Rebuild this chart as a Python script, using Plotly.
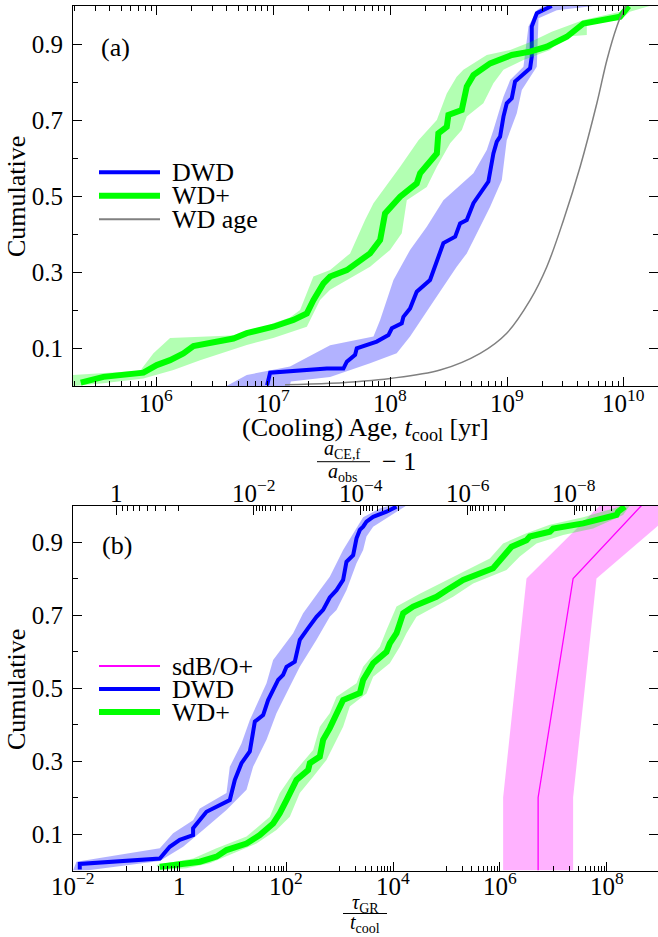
import numpy as np
import plotly.graph_objects as go

# ---------------- panel (a): cumulative (cooling) ages ----------------
# log10(t_cool / yr) and cumulative fraction
dwd_a_logt = [6.947, 6.973, 7.458, 7.600, 7.629, 7.700, 7.714, 7.885, 7.985, 8.014, 8.099,
              8.113, 8.170, 8.227, 8.341, 8.455, 8.556, 8.598, 8.655, 8.712, 8.840, 8.883,
              8.912, 8.940, 8.969, 8.997, 9.040, 9.068, 9.197, 9.211, 9.211, 9.254, 9.382]
dwd_a_cum = [0.002, 0.035, 0.046, 0.046, 0.064, 0.082, 0.099, 0.117, 0.134, 0.152, 0.165,
             0.182, 0.204, 0.248, 0.279, 0.376, 0.393, 0.428, 0.437, 0.481, 0.538, 0.612,
             0.643, 0.656, 0.709, 0.744, 0.757, 0.801, 0.836, 0.867, 0.946, 0.981, 1.0]

wdp_a_logt = [5.353, 5.547, 5.889, 6.003, 6.117, 6.231, 6.317, 6.659, 6.773, 7.000, 7.172,
              7.287, 7.343, 7.429, 7.486, 7.629, 7.828, 7.914, 7.956, 8.085, 8.227, 8.256,
              8.399, 8.412, 8.484, 8.498, 8.612, 8.655, 8.712, 8.855, 9.040, 9.197, 9.340,
              9.511, 9.653, 9.967, 10.04]
wdp_a_cum = [0.009, 0.024, 0.035, 0.055, 0.068, 0.086, 0.105, 0.125, 0.139, 0.156, 0.174,
             0.191, 0.226, 0.270, 0.288, 0.305, 0.349, 0.384, 0.454, 0.498, 0.533, 0.560,
             0.612, 0.665, 0.682, 0.713, 0.726, 0.788, 0.818, 0.849, 0.871, 0.880, 0.893,
             0.919, 0.954, 0.972, 1.0]

age_logt = [7.10, 7.486, 8.0, 8.427, 8.77, 8.997, 9.197, 9.34, 9.483, 9.625, 9.768, 9.854,
            9.939, 9.996, 10.02]
age_cum = [0.003, 0.007, 0.020, 0.042, 0.086, 0.139, 0.226, 0.314, 0.437, 0.577, 0.744,
           0.858, 0.946, 0.989, 1.0]

# uncertainty envelopes: upper-left edge and lower-right edge
dwd_a_up_x = [6.60, 6.773, 7.143, 7.486, 7.857, 7.914, 8.028, 8.17, 8.313, 8.455, 8.712,
              8.826, 8.883, 8.969, 9.026, 9.14, 9.183, 9.254, 9.311]
dwd_a_up_y = [0.0, 0.029, 0.051, 0.107, 0.130, 0.174, 0.279, 0.358, 0.419, 0.489, 0.560,
              0.621, 0.674, 0.761, 0.805, 0.840, 0.946, 0.989, 1.0]
dwd_a_lo_x = [7.14, 7.15, 7.486, 7.828, 8.056, 8.17, 8.341, 8.569, 8.655, 8.855, 8.955,
              8.997, 9.083, 9.126, 9.254, 9.269, 9.425, 9.74]
dwd_a_lo_y = [0.0, 0.012, 0.024, 0.060, 0.086, 0.13, 0.209, 0.314, 0.349, 0.472, 0.542,
              0.647, 0.718, 0.779, 0.840, 0.968, 0.989, 1.0]

wdp_a_up_x = [5.287, 5.861, 5.975, 6.117, 6.8, 7.0, 7.143, 7.229, 7.343, 7.486, 7.657,
              7.785, 7.857, 8.085, 8.242, 8.399, 8.484, 8.569, 8.626, 8.826, 9.026, 9.2,
              9.382, 9.653, 9.967, 10.05]
wdp_a_up_y = [0.029, 0.040, 0.086, 0.126, 0.135, 0.165, 0.180, 0.20, 0.288, 0.305, 0.349,
              0.437, 0.481, 0.577, 0.647, 0.70, 0.77, 0.814, 0.832, 0.871, 0.884, 0.905,
              0.932, 0.963, 0.985, 1.0]
wdp_a_lo_x = [5.287, 5.547, 5.889, 6.146, 6.374, 6.773, 7.0, 7.287, 7.40, 7.486, 7.828,
              7.999, 8.099, 8.142, 8.313, 8.399, 8.513, 8.613, 8.655, 8.797, 8.883, 8.969,
              9.14, 9.368, 9.482, 9.682, 9.682, 9.967, 10.05, 10.22]
wdp_a_lo_y = [0.0, 0.007, 0.020, 0.042, 0.068, 0.108, 0.126, 0.156, 0.226, 0.253, 0.314,
              0.358, 0.402, 0.489, 0.524, 0.577, 0.639, 0.674, 0.709, 0.744, 0.797, 0.832,
              0.858, 0.884, 0.919, 0.924, 0.954, 0.963, 0.985, 1.0]

# ---------------- panel (b): cumulative tau_GR / t_cool ----------------
sdb_b_logr = [6.718, 6.718, 7.374, 8.656]
sdb_b_cum = [0.0, 0.2, 0.8, 1.0]
sdb_b_up_x = [6.062, 6.062, 6.50, 7.875]
sdb_b_up_y = [0.0, 0.2, 0.8, 1.0]
sdb_b_lo_x = [7.374, 7.374, 7.812, 9.41]
sdb_b_lo_y = [0.0, 0.2, 0.8, 1.0]

dwd_b_logr = [-1.873, -1.873, -0.373, -0.186, 0.001, 0.251, 0.251, 0.502, 0.939, 1.033,
              1.158, 1.314, 1.408, 1.564, 1.657, 1.845, 1.938, 2.002, 2.157, 2.251, 2.407,
              2.564, 2.688, 2.813, 2.939, 3.063, 3.126, 3.251, 3.314, 3.376, 3.438, 3.501,
              3.626, 3.876, 4.064]
dwd_b_cum = [0.003, 0.018, 0.033, 0.065, 0.084, 0.097, 0.116, 0.161, 0.193, 0.248, 0.294,
             0.326, 0.408, 0.426, 0.467, 0.522, 0.536, 0.558, 0.572, 0.632, 0.664, 0.695,
             0.714, 0.748, 0.768, 0.796, 0.846, 0.864, 0.910, 0.933, 0.942, 0.956, 0.969,
             0.983, 0.997]
dwd_b_up_x = [-2.0, -1.935, -0.373, -0.124, 0.251, 0.377, 0.877, 0.939, 1.158, 1.314, 1.627,
              1.751, 2.126, 2.313, 2.626, 2.813, 3.063, 3.251, 3.438, 3.75, 3.938]
dwd_b_up_y = [0.0, 0.024, 0.061, 0.102, 0.138, 0.170, 0.212, 0.284, 0.348, 0.412, 0.513,
              0.577, 0.650, 0.705, 0.768, 0.805, 0.878, 0.924, 0.968, 0.992, 1.0]
dwd_b_lo_x = [-1.75, -0.373, 0.064, 0.439, 0.877, 1.252, 1.376, 1.627, 1.814, 2.064, 2.251,
              2.564, 2.813, 2.939, 3.126, 3.188, 3.314, 3.438, 3.501, 3.626, 4.064, 4.251]
dwd_b_lo_y = [0.0, 0.026, 0.065, 0.111, 0.166, 0.221, 0.284, 0.358, 0.431, 0.504, 0.558,
              0.632, 0.695, 0.714, 0.768, 0.796, 0.842, 0.878, 0.915, 0.942, 0.983, 1.0]

wdp_b_logr = [-0.373, 0.377, 0.690, 0.877, 1.252, 1.501, 1.751, 1.876, 2.002, 2.126, 2.189,
              2.407, 2.439, 2.626, 2.688, 2.813, 2.939, 3.063, 3.376, 3.438, 3.626, 3.876,
              3.938, 4.064, 4.126, 4.189, 4.376, 4.813, 5.001, 5.313, 5.875, 6.062, 6.219,
              6.500, 6.562, 6.937, 6.999, 7.562, 8.187, 8.218, 8.343]
wdp_b_cum = [0.010, 0.024, 0.038, 0.056, 0.074, 0.097, 0.129, 0.157, 0.193, 0.230, 0.248,
             0.275, 0.294, 0.312, 0.358, 0.390, 0.431, 0.467, 0.486, 0.522, 0.568, 0.599,
             0.622, 0.650, 0.677, 0.705, 0.723, 0.750, 0.768, 0.796, 0.828, 0.860, 0.887,
             0.905, 0.915, 0.928, 0.937, 0.951, 0.974, 0.983, 0.997]
wdp_b_up_x = [-0.435, 0.251, 0.69, 1.252, 1.689, 1.876, 2.126, 2.501, 2.626, 2.813, 2.939,
              3.314, 3.438, 3.751, 3.876, 4.064, 4.5, 4.876, 5.313, 5.813, 6.062, 6.5,
              6.937, 7.562, 8.125, 8.281]
wdp_b_up_y = [0.015, 0.033, 0.061, 0.093, 0.147, 0.212, 0.266, 0.330, 0.394, 0.431, 0.476,
              0.513, 0.558, 0.613, 0.659, 0.723, 0.758, 0.786, 0.819, 0.855, 0.896, 0.924,
              0.947, 0.968, 0.992, 1.0]
wdp_b_lo_x = [-0.373, 0.127, 0.564, 1.001, 1.439, 1.814, 2.064, 2.251, 2.501, 2.751, 2.876,
              3.063, 3.188, 3.501, 3.626, 3.938, 4.126, 4.251, 4.438, 5.125, 5.5, 6.126,
              6.375, 6.688, 7.187, 7.749, 8.312, 8.437]
wdp_b_lo_y = [0.0, 0.006, 0.020, 0.047, 0.074, 0.111, 0.147, 0.212, 0.257, 0.303, 0.339,
              0.394, 0.449, 0.485, 0.531, 0.568, 0.613, 0.650, 0.695, 0.750, 0.786, 0.823,
              0.860, 0.896, 0.919, 0.937, 0.974, 1.0]

# tick labels
a_xticks = [1e6, 1e7, 1e8, 1e9, 1e10]
a_xticktext = ["10<sup>6</sup>", "10<sup>7</sup>", "10<sup>8</sup>", "10<sup>9</sup>", "10<sup>10</sup>"]
b_xticks = [1e-2, 1, 1e2, 1e4, 1e6, 1e8]
b_xticktext = ["10<sup>\u22122</sup>", "1", "10<sup>2</sup>", "10<sup>4</sup>",
               "10<sup>6</sup>", "10<sup>8</sup>"]
sep_ticks = [1, 1e-2, 1e-4, 1e-6, 1e-8]          # a_CE,f / a_obs - 1
sep_ticktext = ["1", "10<sup>\u22122</sup>", "10<sup>\u22124</sup>",
                "10<sup>\u22126</sup>", "10<sup>\u22128</sup>"]
y_ticks = [0.1, 0.3, 0.5, 0.7, 0.9]
y_minor = [0.2, 0.4, 0.6, 0.8]

# ---------------- figure geometry / style ----------------
W, H = 658, 937
ML = 73
PW = W - ML
FONT = "Liberation Serif"
BLUE, GREEN, GREY, MAGENTA = "#0000ff", "#00ff00", "#808080", "#ff00ff"
BLUE_F, GREEN_F, MAG_F = "rgba(0,0,255,0.3)", "rgba(0,255,0,0.3)", "rgba(255,0,255,0.3)"
TXT = 26
TICK = 25


def px(xp):
    return (xp - ML) / PW


def py(yp):
    return 1 - yp / H


def sep_to_ratio(s):
    # a_CE,f/a_obs - 1 = (1 + t_cool/tau_GR)^(1/4) - 1  ->  tau_GR/t_cool
    return 1.0 / ((1.0 + s) ** 4 - 1.0)


fig = go.Figure()


def add_band(up_x, up_y, lo_x, lo_y, color, xa, ya):
    xs = list(10 ** np.array(up_x)) + list(10 ** np.array(lo_x))[::-1]
    ys = list(up_y) + list(lo_y)[::-1]
    fig.add_trace(go.Scatter(x=xs, y=ys, mode="lines", fill="toself", fillcolor=color,
                             line=dict(width=0, color=color), hoverinfo="skip",
                             xaxis=xa, yaxis=ya))


def add_line(lx, ly, color, width, xa, ya, shape="linear"):
    fig.add_trace(go.Scatter(x=10 ** np.array(lx), y=ly, mode="lines",
                             line=dict(color=color, width=width, shape=shape),
                             xaxis=xa, yaxis=ya))


# panel (a)
add_band(dwd_a_up_x, dwd_a_up_y, dwd_a_lo_x, dwd_a_lo_y, BLUE_F, "x", "y")
add_line(dwd_a_logt, dwd_a_cum, BLUE, 4, "x", "y")
add_band(wdp_a_up_x, wdp_a_up_y, wdp_a_lo_x, wdp_a_lo_y, GREEN_F, "x", "y")
add_line(wdp_a_logt, wdp_a_cum, GREEN, 6, "x", "y")
add_line(age_logt, age_cum, GREY, 1.5, "x", "y", shape="spline")

# panel (b)
add_band(sdb_b_up_x, sdb_b_up_y, sdb_b_lo_x, sdb_b_lo_y, MAG_F, "x2", "y2")
add_line(sdb_b_logr, sdb_b_cum, MAGENTA, 1.3, "x2", "y2")
add_band(dwd_b_up_x, dwd_b_up_y, dwd_b_lo_x, dwd_b_lo_y, BLUE_F, "x2", "y2")
add_line(dwd_b_logr, dwd_b_cum, BLUE, 4, "x2", "y2")
add_band(wdp_b_up_x, wdp_b_up_y, wdp_b_lo_x, wdp_b_lo_y, GREEN_F, "x2", "y2")
add_line(wdp_b_logr, wdp_b_cum, GREEN, 6, "x2", "y2")
# empty trace so the secondary (separation) axis on top of panel (b) is drawn
fig.add_trace(go.Scatter(x=[], y=[], mode="lines", xaxis="x3", yaxis="y2",
                         hoverinfo="skip"))

tickfont = dict(family=FONT, size=TICK, color="black")
axis_common = dict(showline=True, linecolor="black", linewidth=1, ticks="inside",
                   ticklen=9, tickwidth=1, tickcolor="black", showgrid=False,
                   zeroline=False, tickfont=tickfont)

a_minor = [m * 10.0 ** k for k in range(5, 11) for m in range(2, 10)]
b_minor = [m * 10.0 ** (k - 1) for k in (-2, 0, 2, 4, 6, 8) for m in range(1, 10)]
sep_minor = [m * 10.0 ** (k - 1) for k in (0, -2, -4, -6, -8) for m in range(2, 10)]

minor_style = dict(ticks="inside", ticklen=5, tickwidth=1, tickcolor="black", showgrid=False)

ya_dom = [py(386), py(6)]
yb_dom = [py(870.5), py(505.5)]

fig.update_layout(
    width=W, height=H,
    margin=dict(l=ML, r=0, t=0, b=0),
    paper_bgcolor="white", plot_bgcolor="white",
    showlegend=False,
    font=dict(family=FONT, color="black"),
    xaxis=dict(axis_common, type="log", range=[5.2866, 10.291], domain=[0, 1], anchor="y",
               mirror="ticks", tickmode="array", tickvals=a_xticks, showticklabels=False,
               minor=dict(minor_style, tickmode="array", tickvals=a_minor)),
    yaxis=dict(axis_common, range=[0, 1], domain=ya_dom, anchor="x", mirror="ticks",
               tickmode="array", tickvals=y_ticks, ticktext=[f"{v:.1f}" for v in y_ticks],
               minor=dict(minor_style, tickmode="array", tickvals=y_minor),
               ticklabelstandoff=4),
    xaxis2=dict(axis_common, type="log", range=[-2.0, 8.965], domain=[0, 1], anchor="y2",
                mirror=False, tickmode="array", tickvals=b_xticks, showticklabels=False,
                minor=dict(minor_style, tickmode="array", tickvals=b_minor)),
    xaxis3=dict(axis_common, type="log", range=[-2.0, 8.965], overlaying="x2", side="top",
                anchor="y2", tickmode="array", showticklabels=False,
                tickvals=[sep_to_ratio(s) for s in sep_ticks],
                minor=dict(minor_style, tickmode="array",
                           tickvals=[sep_to_ratio(s) for s in sep_minor])),
    yaxis2=dict(axis_common, range=[0, 1], domain=yb_dom, anchor="x2", mirror="ticks",
                tickmode="array", tickvals=y_ticks, ticktext=[f"{v:.1f}" for v in y_ticks],
                minor=dict(minor_style, tickmode="array", tickvals=y_minor),
                ticklabelstandoff=4),
)

annotations = []
shapes = []


def text(x, y, s, size=TXT, xanchor="center", angle=0):
    annotations.append(dict(x=px(x), y=py(y), xref="paper", yref="paper", text=s,
                            showarrow=False, xanchor=xanchor, yanchor="middle",
                            textangle=angle, font=dict(family=FONT, size=size, color="black")))


def tick_labels(vals, labels, xref, y_bottom):
    # x tick labels sitting on a common baseline, placed at the tick positions
    for v, lab in zip(vals, labels):
        annotations.append(dict(x=float(np.log10(v)), y=py(y_bottom), xref=xref, yref="paper",
                                text=lab, showarrow=False, xanchor="center",
                                yanchor="bottom", font=tickfont))


def hline(x0, x1, y, color="black", width=1):
    shapes.append(dict(type="line", xref="paper", yref="paper", x0=px(x0), x1=px(x1),
                       y0=py(y), y1=py(y), line=dict(color=color, width=width)))


tick_labels(a_xticks, a_xticktext, "x", 419)
tick_labels(b_xticks, b_xticktext, "x2", 902)
tick_labels([sep_to_ratio(s) for s in sep_ticks], sep_ticktext, "x3", 509)

# panel labels and axis titles
text(99, 47, "(a)", xanchor="left")
text(100, 545, "(b)", xanchor="left")
text(16, 197, "Cumulative", angle=-90)
text(16, 690, "Cumulative", angle=-90)
text(365, 429, "(Cooling) Age, <i>t</i><sub>cool</sub> [yr]")

# a_CE,f / a_obs - 1 (top axis of panel b)
text(342, 450, "<i>a</i><sub>CE,f</sub>", size=20)
hline(317, 370, 461.7)
text(342, 472, "<i>a</i><sub>obs</sub>", size=20)
text(399, 462, "\u2212 1")

# tau_GR / t_cool (bottom axis of panel b)
text(365, 903, "<i>\u03c4</i><sub>GR</sub>", size=20)
hline(343, 387, 913.5)
text(365, 923, "<i>t</i><sub>cool</sub>", size=20)

# legends
for yy, col, wdt, lab in [(172.3, BLUE, 4, "DWD"), (195.7, GREEN, 6, "WD+"),
                          (219.3, GREY, 2, "WD age")]:
    hline(99, 160, yy, col, wdt)
    text(170, yy, lab, xanchor="left")
for yy, col, wdt, lab in [(666, MAGENTA, 2, "sdB/O+"), (689, BLUE, 4, "DWD"),
                          (712, GREEN, 6, "WD+")]:
    hline(99, 160, yy, col, wdt)
    text(170, yy, lab, xanchor="left")

fig.update_layout(annotations=annotations, shapes=shapes)
fig.write_html("out.html")
